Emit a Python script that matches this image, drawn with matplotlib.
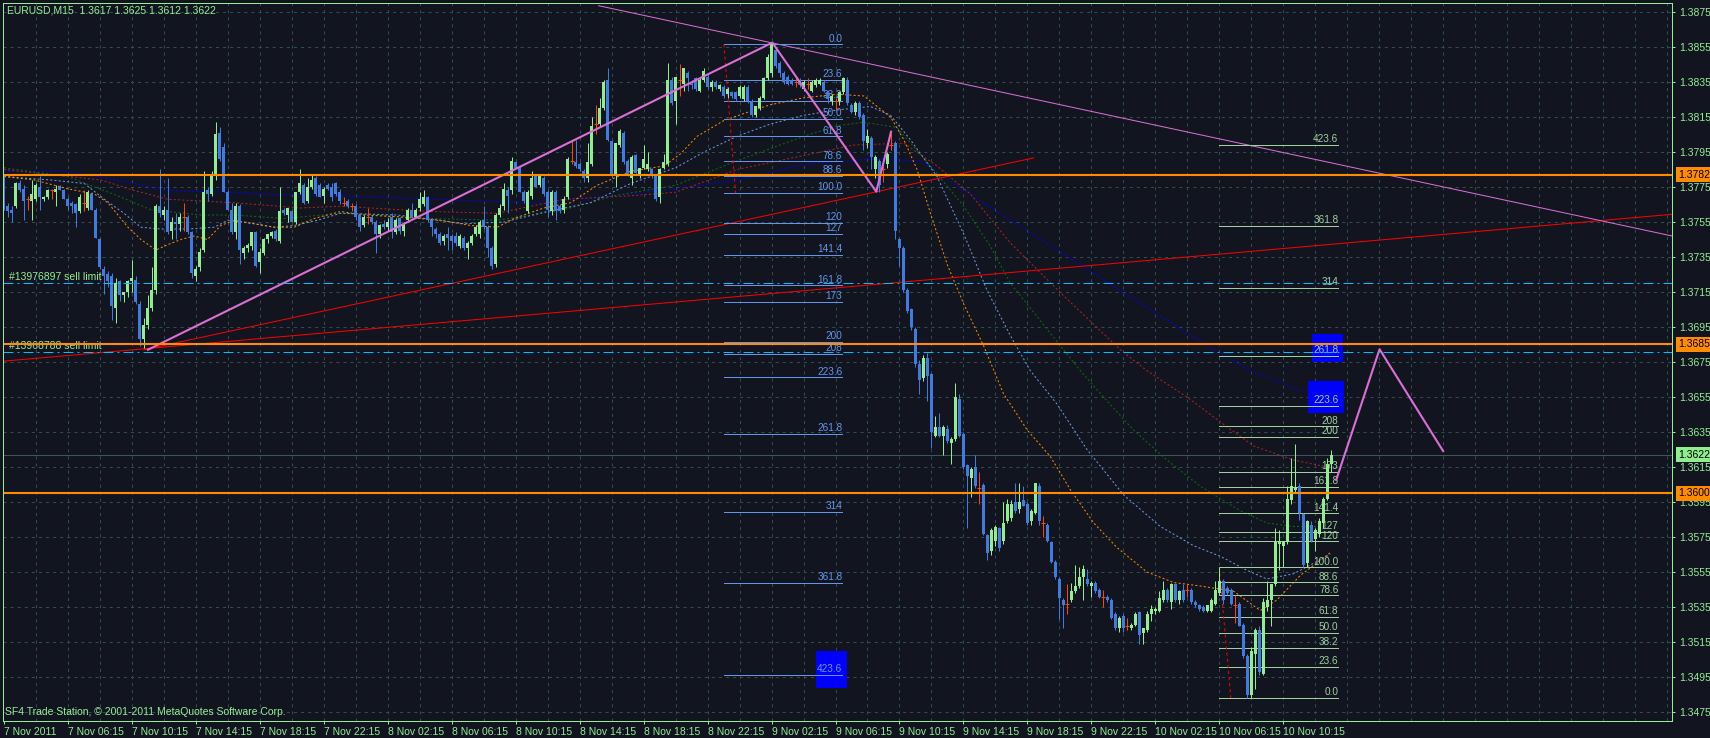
import numpy as np
import matplotlib.pyplot as plt
from matplotlib.patches import Rectangle
from matplotlib.transforms import blended_transform_factory

plt.rcParams['font.family'] = ['Liberation Sans Narrow', 'Liberation Sans', 'DejaVu Sans']
plt.rcParams['lines.scale_dashes'] = False

# prices are written as 4 digits after "1." (3776 -> 1.3776), one candle per 15 min bar
opens = [
    3776, 3764, 3762, 3764, 3777, 3774, 3768, 3767, 3768, 3775, 3768, 3769, 3773, 3772, 3775, 3773, 3768, 3766, 3765, 3761,
    3766, 3763, 3771, 3762, 3745, 3728, 3725, 3724, 3706, 3721, 3713, 3715, 3721, 3722, 3708, 3688, 3696, 3706, 3716, 3764,
    3759, 3762, 3750, 3755, 3754, 3758, 3758, 3749, 3724, 3729, 3739, 3773, 3771, 3781, 3806, 3798, 3772, 3762, 3749, 3764,
    3737, 3740, 3741, 3749, 3732, 3737, 3745, 3747, 3750, 3744, 3762, 3759, 3761, 3755, 3772, 3776, 3767, 3775, 3780, 3776,
    3770, 3776, 3775, 3777, 3772, 3766, 3767, 3764, 3764, 3759, 3753, 3758, 3758, 3755, 3748, 3754, 3752, 3758, 3749, 3757,
    3750, 3756, 3762, 3758, 3763, 3765, 3769, 3756, 3751, 3748, 3744, 3748, 3747, 3747, 3741, 3746, 3740, 3743, 3748, 3748,
    3756, 3752, 3740, 3731, 3759, 3764, 3773, 3773, 3789, 3786, 3772, 3761, 3770, 3781, 3776, 3780, 3772, 3761, 3772, 3764,
    3762, 3769, 3790, 3789, 3788, 3784, 3780, 3788, 3811, 3811, 3820, 3836, 3801, 3782, 3799, 3806, 3790, 3780, 3793, 3781,
    3786, 3785, 3785, 3781, 3769, 3786, 3788, 3836, 3824, 3836, 3834, 3840, 3834, 3837, 3830, 3836, 3838, 3832, 3835, 3831,
    3832, 3828, 3829, 3829, 3827, 3825, 3832, 3824, 3816, 3820, 3826, 3837, 3840, 3853, 3846, 3840, 3838, 3836, 3835, 3836,
    3831, 3834, 3830, 3833, 3834, 3835, 3829, 3824, 3824, 3824, 3829, 3836, 3822, 3818, 3823, 3816, 3800, 3803, 3785, 3790,
    3785, 3788, 3799, 3800, 3745, 3740, 3716, 3705, 3694, 3674, 3666, 3677, 3668, 3633, 3638, 3633, 3637, 3629, 3631, 3654,
    3634, 3616, 3609, 3615, 3603, 3605, 3576, 3567, 3573, 3580, 3573, 3584, 3586, 3595, 3591, 3596, 3594, 3584, 3589, 3604,
    3583, 3582, 3572, 3561, 3551, 3539, 3537, 3539, 3544, 3547, 3552, 3551, 3547, 3549, 3545, 3541, 3541, 3539, 3531, 3523,
    3530, 3524, 3523, 3525, 3532, 3520, 3522, 3531, 3533, 3533, 3539, 3545, 3538, 3548, 3539, 3545, 3545, 3545, 3538, 3536,
    3535, 3533, 3533, 3537, 3543, 3550, 3546, 3545, 3536, 3537, 3525, 3507, 3485, 3508, 3522, 3497, 3535, 3539, 3548, 3571,
    3570, 3572, 3596, 3602, 3604, 3588, 3560, 3582, 3574, 3577, 3583, 3597, 3617,
]
highs = [
    3781, 3766, 3764, 3778, 3779, 3776, 3770, 3779, 3777, 3781, 3770, 3774, 3774, 3776, 3776, 3774, 3769, 3767, 3766, 3771,
    3773, 3773, 3772, 3763, 3746, 3730, 3727, 3726, 3723, 3722, 3715, 3722, 3733, 3724, 3710, 3700, 3713, 3729, 3765, 3785,
    3764, 3780, 3758, 3760, 3760, 3766, 3759, 3750, 3730, 3740, 3784, 3775, 3784, 3812, 3809, 3800, 3773, 3766, 3766, 3765,
    3741, 3743, 3749, 3750, 3740, 3746, 3748, 3750, 3751, 3775, 3763, 3763, 3762, 3772, 3785, 3777, 3780, 3782, 3781, 3777,
    3775, 3777, 3777, 3778, 3774, 3769, 3768, 3766, 3765, 3760, 3759, 3763, 3759, 3756, 3754, 3756, 3757, 3760, 3757, 3758,
    3755, 3763, 3766, 3763, 3772, 3773, 3770, 3757, 3752, 3749, 3748, 3752, 3748, 3749, 3748, 3747, 3744, 3748, 3753, 3756,
    3764, 3753, 3741, 3760, 3765, 3777, 3775, 3792, 3790, 3787, 3773, 3773, 3784, 3782, 3782, 3781, 3773, 3773, 3773, 3765,
    3770, 3792, 3801, 3802, 3789, 3785, 3800, 3815, 3822, 3826, 3836, 3843, 3802, 3800, 3808, 3807, 3791, 3793, 3794, 3786,
    3799, 3795, 3786, 3782, 3786, 3794, 3846, 3838, 3838, 3845, 3843, 3841, 3836, 3838, 3837, 3843, 3840, 3836, 3836, 3834,
    3833, 3832, 3830, 3830, 3833, 3833, 3833, 3825, 3821, 3827, 3838, 3851, 3858, 3855, 3847, 3841, 3839, 3837, 3838, 3837,
    3836, 3837, 3836, 3837, 3837, 3836, 3830, 3828, 3826, 3830, 3838, 3838, 3823, 3824, 3824, 3817, 3808, 3804, 3793, 3791,
    3790, 3795, 3806, 3801, 3746, 3741, 3717, 3706, 3695, 3676, 3679, 3680, 3669, 3644, 3646, 3639, 3639, 3632, 3663, 3657,
    3635, 3617, 3615, 3622, 3612, 3606, 3577, 3580, 3582, 3581, 3595, 3597, 3596, 3606, 3606, 3604, 3595, 3591, 3606, 3606,
    3587, 3583, 3573, 3562, 3552, 3540, 3548, 3549, 3559, 3558, 3559, 3557, 3550, 3550, 3546, 3545, 3542, 3540, 3532, 3530,
    3531, 3529, 3526, 3532, 3533, 3523, 3533, 3536, 3535, 3544, 3550, 3546, 3549, 3549, 3545, 3548, 3548, 3546, 3539, 3537,
    3536, 3536, 3540, 3550, 3558, 3551, 3547, 3546, 3542, 3538, 3526, 3508, 3512, 3523, 3524, 3540, 3550, 3548, 3580, 3579,
    3573, 3604, 3620, 3628, 3606, 3589, 3585, 3584, 3580, 3586, 3598, 3620, 3625,
]
lows = [
    3762, 3758, 3755, 3763, 3772, 3756, 3762, 3756, 3767, 3762, 3767, 3768, 3768, 3764, 3773, 3768, 3762, 3760, 3752, 3760,
    3761, 3762, 3762, 3746, 3728, 3714, 3718, 3699, 3697, 3710, 3709, 3712, 3715, 3708, 3684, 3683, 3694, 3704, 3714, 3758,
    3756, 3748, 3745, 3745, 3750, 3750, 3748, 3723, 3721, 3727, 3738, 3767, 3770, 3779, 3790, 3772, 3762, 3748, 3745, 3731,
    3734, 3738, 3739, 3729, 3726, 3736, 3743, 3746, 3744, 3743, 3759, 3755, 3755, 3754, 3771, 3765, 3766, 3774, 3770, 3769,
    3766, 3773, 3767, 3770, 3765, 3764, 3763, 3761, 3756, 3750, 3752, 3754, 3754, 3737, 3746, 3751, 3750, 3746, 3748, 3748,
    3747, 3755, 3757, 3757, 3761, 3764, 3755, 3747, 3746, 3742, 3742, 3739, 3739, 3741, 3740, 3739, 3734, 3742, 3747, 3746,
    3751, 3735, 3728, 3729, 3758, 3762, 3760, 3771, 3785, 3772, 3766, 3760, 3768, 3775, 3775, 3770, 3758, 3759, 3756, 3760,
    3760, 3768, 3788, 3786, 3784, 3778, 3778, 3787, 3805, 3810, 3819, 3801, 3780, 3775, 3798, 3788, 3781, 3776, 3783, 3780,
    3785, 3784, 3780, 3767, 3766, 3785, 3787, 3822, 3811, 3827, 3830, 3830, 3831, 3830, 3829, 3835, 3831, 3830, 3831, 3830,
    3826, 3826, 3826, 3824, 3826, 3824, 3823, 3815, 3815, 3819, 3825, 3836, 3838, 3843, 3838, 3834, 3833, 3833, 3832, 3832,
    3830, 3831, 3829, 3832, 3833, 3829, 3823, 3822, 3819, 3822, 3828, 3822, 3817, 3816, 3814, 3796, 3797, 3785, 3780, 3772,
    3778, 3786, 3796, 3745, 3730, 3715, 3703, 3693, 3672, 3657, 3664, 3653, 3626, 3632, 3632, 3622, 3629, 3617, 3630, 3632,
    3614, 3580, 3598, 3603, 3594, 3576, 3562, 3565, 3570, 3567, 3571, 3583, 3584, 3589, 3589, 3593, 3582, 3582, 3588, 3582,
    3575, 3572, 3560, 3551, 3528, 3523, 3531, 3538, 3543, 3546, 3539, 3547, 3541, 3543, 3540, 3535, 3538, 3528, 3522, 3521,
    3521, 3522, 3522, 3524, 3514, 3514, 3521, 3527, 3531, 3532, 3538, 3538, 3534, 3538, 3537, 3538, 3541, 3537, 3535, 3533,
    3532, 3532, 3532, 3536, 3542, 3537, 3542, 3536, 3526, 3524, 3506, 3483, 3483, 3488, 3496, 3496, 3533, 3524, 3547, 3556,
    3558, 3571, 3594, 3600, 3585, 3558, 3558, 3572, 3567, 3575, 3580, 3596, 3612,
]
closes = [
    3764, 3761, 3760, 3777, 3773, 3767, 3768, 3771, 3776, 3769, 3769, 3773, 3773, 3774, 3773, 3768, 3764, 3764, 3760, 3769,
    3766, 3772, 3762, 3746, 3729, 3724, 3721, 3707, 3720, 3713, 3715, 3721, 3723, 3709, 3688, 3696, 3706, 3716, 3764, 3760,
    3762, 3749, 3755, 3754, 3758, 3758, 3749, 3726, 3728, 3738, 3772, 3771, 3781, 3805, 3791, 3772, 3762, 3749, 3764, 3739,
    3740, 3742, 3749, 3730, 3738, 3745, 3748, 3749, 3745, 3761, 3760, 3763, 3755, 3772, 3777, 3766, 3775, 3779, 3771, 3769,
    3774, 3774, 3769, 3771, 3767, 3766, 3764, 3764, 3758, 3752, 3758, 3758, 3755, 3748, 3753, 3752, 3755, 3749, 3756, 3750,
    3754, 3762, 3758, 3762, 3768, 3769, 3756, 3752, 3748, 3743, 3747, 3746, 3744, 3743, 3747, 3740, 3743, 3747, 3752, 3755,
    3752, 3740, 3730, 3759, 3763, 3774, 3770, 3790, 3786, 3772, 3767, 3772, 3780, 3775, 3781, 3771, 3762, 3772, 3761, 3761,
    3768, 3791, 3790, 3787, 3785, 3780, 3789, 3810, 3811, 3820, 3835, 3802, 3781, 3800, 3807, 3789, 3781, 3792, 3783, 3786,
    3791, 3788, 3781, 3768, 3785, 3789, 3836, 3823, 3838, 3836, 3843, 3837, 3833, 3831, 3836, 3841, 3832, 3835, 3832, 3833,
    3827, 3831, 3827, 3825, 3832, 3832, 3824, 3816, 3821, 3826, 3837, 3849, 3857, 3844, 3840, 3835, 3834, 3834, 3835, 3833,
    3835, 3834, 3835, 3836, 3836, 3830, 3825, 3827, 3824, 3829, 3837, 3823, 3818, 3823, 3815, 3801, 3804, 3792, 3792, 3776,
    3785, 3794, 3799, 3750, 3740, 3716, 3704, 3695, 3674, 3665, 3677, 3667, 3635, 3638, 3633, 3638, 3630, 3631, 3655, 3633,
    3615, 3610, 3614, 3604, 3603, 3577, 3566, 3579, 3581, 3569, 3583, 3594, 3594, 3590, 3595, 3593, 3583, 3590, 3606, 3584,
    3583, 3573, 3561, 3552, 3540, 3536, 3537, 3544, 3547, 3552, 3557, 3548, 3549, 3544, 3541, 3541, 3539, 3529, 3523, 3529,
    3523, 3524, 3525, 3531, 3519, 3523, 3531, 3534, 3534, 3540, 3545, 3539, 3548, 3539, 3544, 3539, 3545, 3538, 3536, 3534,
    3533, 3536, 3539, 3545, 3550, 3539, 3543, 3537, 3536, 3524, 3507, 3485, 3510, 3522, 3498, 3538, 3539, 3548, 3572, 3573,
    3572, 3597, 3604, 3603, 3589, 3559, 3584, 3573, 3579, 3584, 3597, 3617, 3622,
]

time_labels = ['7 Nov 2011', '7 Nov 06:15', '7 Nov 10:15', '7 Nov 14:15', '7 Nov 18:15', '7 Nov 22:15',
               '8 Nov 02:15', '8 Nov 06:15', '8 Nov 10:15', '8 Nov 14:15', '8 Nov 18:15', '8 Nov 22:15',
               '9 Nov 02:15', '9 Nov 06:15', '9 Nov 10:15', '9 Nov 14:15', '9 Nov 18:15', '9 Nov 22:15',
               '10 Nov 02:15', '10 Nov 06:15', '10 Nov 10:15']

# moving averages (bar index, price)
ma_orange_x = [0, 7.6, 15.9, 22.6, 26, 31, 34.25, 38, 40.9, 44.25, 47.6, 50.9, 54.25, 57.6, 62.6, 67.6, 72.6, 77.6,
               84.25, 90, 98.4, 109.25, 116.75, 123.4, 127.6, 135, 141.75, 148.4, 156.75, 165.1, 169.25, 173.4, 180.1,
               187.6, 191.75, 200.1, 208.4, 215.1, 221.75, 225.1, 228.4, 231.75, 235.9, 240.1, 245.1, 250, 256, 261.75,
               266.75, 272.6, 278.4, 285.9, 292.6, 299.25, 307.6, 314.25, 318.4, 324.25, 331.75]
ma_orange_y = [3781, 3779, 3774, 3771, 3766, 3752, 3745, 3739, 3742, 3745, 3747, 3745, 3753, 3756, 3754, 3752, 3752, 3757,
               3761, 3759, 3758, 3756, 3753, 3752, 3757, 3763, 3766, 3776, 3784, 3787, 3794, 3804, 3813, 3819, 3822, 3826,
               3828, 3827, 3815, 3802, 3785, 3760, 3731, 3708, 3684, 3657, 3636, 3621, 3602, 3583, 3569, 3555, 3549, 3547,
               3544, 3533, 3539, 3553, 3566]
ma_lblue_x = [0, 11.75, 20.1, 25.1, 30, 34.25, 39.25, 45.9, 52.6, 56, 62.6, 67.6, 72.6, 78.4, 84.25, 98.4, 115.1, 125.1,
              135.9, 146.75, 156.75, 168, 175.1, 183.4, 191.75, 200.1, 208.4, 216.75, 221.75, 226.75, 233.4, 240.1, 245.9,
              251.75, 256.75, 263.4, 270.9, 280.1, 289.25, 297.6, 304.25, 310.9, 315.9, 322.6, 331.75]
ma_lblue_y = [3781, 3779, 3777, 3768, 3760, 3752, 3751, 3751, 3752, 3756, 3754, 3752, 3753, 3756, 3760, 3759, 3754, 3755,
              3761, 3766, 3777, 3786, 3795, 3804, 3811, 3816, 3819, 3821, 3816, 3802, 3781, 3748, 3716, 3690, 3670, 3651,
              3625, 3599, 3581, 3570, 3564, 3556, 3551, 3554, 3565]
ma_green_x = [0, 15.9, 28.4, 36.75, 49.25, 57.6, 70.1, 84.25, 106.75, 123.4, 140.1, 152.6, 168, 183.4, 200.1, 208.4,
              215.1, 223.4, 231.75, 240.1, 246.75, 251.75, 269.25, 274.25, 282.6, 290.9, 299.25, 309.25, 315.9, 322.6,
              329.25]
ma_green_y = [3786, 3781, 3770, 3762, 3759, 3759, 3757, 3760, 3757, 3756, 3762, 3770, 3776, 3790, 3804, 3810, 3812, 3809,
              3787, 3764, 3741, 3720, 3670, 3657, 3636, 3619, 3604, 3590, 3583, 3581, 3581]
ma_red_x = [0, 24.25, 32.6, 40.9, 57.6, 74.25, 84.25, 106.75, 123.4, 140.1, 156.75, 168, 183.4, 200.1, 212.6, 225.1,
            233.4, 241.75, 251.75, 265, 279.25, 285.9, 295.9, 305.9, 312.6, 322.6, 330.9]
ma_red_y = [3785, 3779, 3773, 3768, 3766, 3763, 3764, 3761, 3760, 3768, 3770, 3772, 3785, 3793, 3799, 3800, 3787, 3771,
            3743, 3713, 3682, 3670, 3655, 3638, 3627, 3619, 3615]
ma_blue_x = [0, 15.9, 32.6, 40.9, 57.6, 74.25, 84.25, 106.75, 131.75, 148.4, 168, 183.4, 200.1, 216.75, 229.25, 237.6,
             251.75, 298.4, 311.75, 325.1]
ma_blue_y = [3784, 3784, 3777, 3773, 3772, 3770, 3770, 3768, 3766, 3769, 3774, 3779, 3788, 3791, 3790, 3777, 3756, 3688,
             3670, 3658]

# drawn objects
orange_levels = [3782, 3685, 3600]
last_price = 3622
sell_limit_prices = [3720, 3680.6]
sell_limit_names = ['#13976897 sell limit', '#13968788 sell limit']
zigzag_x = [36, 192.2, 218.2, 221.9]
zigzag_y = [3682, 3857.5, 3772.3, 3806.6]
projection_x = [333.25, 344.1, 360]
projection_y = [3607.6, 3682.3, 3624.1]
thin_pink_x = [148.75, 417.3]
thin_pink_y = [3878.6, 3747.0]
red_a_x = [-1, 417.3]
red_a_y = [3675.3, 3759.4]
red_b_x = [35, 257.5]
red_b_y = [3682, 3791.6]

fib_levels = [0, 23.6, 38.2, 50, 61.8, 78.6, 88.6, 100, 120, 127, 141.4, 161.8, 173, 200, 208, 223.6, 261.8, 314,
              361.8, 423.6]
fib_texts = ['0.0', '23.6', '38.2', '50.0', '61.8', '78.6', '88.6', '100.0', '120', '127', '141.4', '161.8', '173',
             '200', '208', '223.6', '261.8', '314', '361.8', '423.6']
fib1_anchor_x = [180.1, 183.0]
fib1_anchor_y = [3856.5, 3771.4]
fib1_end_x = 209.7
fib2_anchor_x = [304.0, 306.9]
fib2_anchor_y = [3557.6, 3483.0]
fib2_end_x = 333.8
# blue rectangles: (x0, x1, y0, y1)
boxes = [(203.0, 210.85, 3488.9, 3509.9), (327.2, 334.9, 3674.8, 3691.0), (326.1, 335.1, 3646.0, 3664.1)]

BG = '#12151f'
GRID = '#2f4f4f'
FG = '#96ee96'
BULL = '#90ee90'
BEAR = '#3f7be0'
DOJI = '#ff4500'
ORANGE = '#ff8c00'
PINK = '#da70d6'
FIB1 = '#6495ed'
FIB2 = '#a0cfa0'
PX = 0.72  # one pixel in points


def pr(v):
    return 1 + np.asarray(v, dtype=float) / 10000


fig = plt.figure(figsize=(17.1, 7.38), dpi=100, facecolor=BG)
ax = fig.add_axes([3 / 1710, 17 / 738, 1669 / 1710, 718 / 738], facecolor=BG)
ax.set_xlim(-0.25, 417.25)
ax.set_ylim(1.346986, 1.388014)

price_ticks = np.arange(3475, 3876, 20)
grid_ls = (0, (2.2, 2.9))
for v in price_ticks:
    ax.axhline(pr(v), color=GRID, lw=PX, ls=grid_ls, zorder=0)
for gx in range(8, 418, 8):
    ax.axvline(gx, color=GRID, lw=PX, ls=grid_ls, zorder=0)

# rectangles
for x0, x1, y0, y1 in boxes:
    ax.add_patch(Rectangle((x0, pr(y0)), x1 - x0, pr(y1) - pr(y0), color='#0000ff', lw=0, zorder=1))

# moving averages
ma_ls = (0, (1.44, 1.6))
ax.plot(ma_blue_x, pr(ma_blue_y), color='#0000ff', lw=PX, ls=ma_ls, zorder=2)
ax.plot(ma_red_x, pr(ma_red_y), color='#b22222', lw=PX, ls=ma_ls, zorder=2)
ax.plot(ma_green_x, pr(ma_green_y), color='#0a6e0a', lw=PX, ls=ma_ls, zorder=2)
ax.plot(ma_lblue_x, pr(ma_lblue_y), color='#6f9ae8', lw=PX, ls=ma_ls, zorder=2)
ax.plot(ma_orange_x, pr(ma_orange_y), color=ORANGE, lw=PX, ls=ma_ls, zorder=2)

# current price line
ax.axhline(pr(last_price), color='#3d5757', lw=PX, zorder=2)

# trend lines
ax.plot(red_a_x, pr(red_a_y), color='#ff0000', lw=PX, zorder=3)
ax.plot(red_b_x, pr(red_b_y), color='#ff0000', lw=PX, zorder=3)
ax.plot(thin_pink_x, pr(thin_pink_y), color=PINK, lw=PX, zorder=3)

# fibonacci 1 (down swing) and 2 (up swing)
rng1 = fib1_anchor_y[0] - fib1_anchor_y[1]
rng2 = fib2_anchor_y[0] - fib2_anchor_y[1]
for lv, t in zip(fib_levels, fib_texts):
    y1 = pr(fib1_anchor_y[0] - lv / 100 * rng1)
    ax.plot([fib1_anchor_x[0], fib1_end_x], [y1, y1], color=FIB1, lw=PX, zorder=3)
    ax.annotate(t, (fib1_end_x, y1), xytext=(0, 0.6), textcoords='offset points', ha='right', va='bottom',
                color=FIB1, fontsize=7.2, zorder=3)
    y2 = pr(fib2_anchor_y[1] + lv / 100 * rng2)
    ax.plot([fib2_anchor_x[0], fib2_end_x], [y2, y2], color=FIB2, lw=PX, zorder=3)
    ax.annotate(t, (fib2_end_x, y2), xytext=(0, 0.6), textcoords='offset points', ha='right', va='bottom',
                color=FIB2, fontsize=7.2, zorder=3)
ax.plot(fib1_anchor_x, pr(fib1_anchor_y), color='#ff0000', lw=PX, ls=(0, (2.2, 2.2)), zorder=3)
ax.plot(fib2_anchor_x, pr(fib2_anchor_y), color='#ff0000', lw=PX, ls=(0, (2.2, 2.2)), zorder=3)

# candles
o, h, l, c = pr(opens), pr(highs), pr(lows), pr(closes)
idx = np.arange(len(o))
up, dn, dj = c > o, c < o, c == o
ax.vlines(idx[up], l[up], h[up], color=BULL, lw=PX, zorder=4)
ax.bar(idx[up], c[up] - o[up], bottom=o[up], width=0.75, color=BULL, lw=0, zorder=4)
ax.vlines(idx[dn], l[dn], h[dn], color=BEAR, lw=PX, zorder=4)
ax.bar(idx[dn], o[dn] - c[dn], bottom=c[dn], width=0.75, color=BEAR, lw=0, zorder=4)
ax.vlines(idx[dj], l[dj], h[dj], color=DOJI, lw=PX, zorder=4)
ax.hlines(o[dj], idx[dj] - 0.5, idx[dj] + 0.5, color=DOJI, lw=PX, zorder=4)

# pink zigzag + projection
ax.plot(zigzag_x, pr(zigzag_y), color=PINK, lw=1.5, zorder=5)
ax.plot(projection_x, pr(projection_y), color=PINK, lw=1.5, zorder=5)

# pending orders
for v, name in zip(sell_limit_prices, sell_limit_names):
    ax.axhline(pr(v), color='#00bfff', lw=PX, ls=(0, (7.2, 2.9, 1.4, 2.9)), zorder=5)
    ax.annotate(name, (1.2, pr(v)), xytext=(0, 1), textcoords='offset points', ha='left', va='bottom',
                color=FG, fontsize=7.5, zorder=5)

# horizontal levels
for v in orange_levels:
    ax.axhline(pr(v), color=ORANGE, lw=1.5, zorder=6)

# axes styling
for s in ax.spines.values():
    s.set_color(FG)
    s.set_linewidth(PX)
    s.set_zorder(7)
ax.yaxis.tick_right()
ax.set_yticks(pr(price_ticks))
ax.set_yticklabels([f'{p:.4f}' for p in pr(price_ticks)])
ax.set_xticks(np.arange(len(time_labels)) * 16)
ax.set_xticklabels(time_labels)
for lbl in ax.get_xticklabels():
    lbl.set_horizontalalignment('left')
ax.tick_params(axis='both', colors=FG, labelcolor=FG, labelsize=7.5, length=2.5, width=PX, direction='out')
ax.tick_params(axis='y', pad=3)
ax.tick_params(axis='x', pad=2)

trans = blended_transform_factory(ax.transAxes, ax.transData)
for v in orange_levels:
    ax.text(1.0036, pr(v), f'{pr(v):.4f}', transform=trans, ha='left', va='center', fontsize=7.5, color='black',
            bbox=dict(boxstyle='square,pad=0.22', fc=ORANGE, ec='none'), clip_on=False, zorder=10)
ax.text(1.0036, pr(last_price), f'{pr(last_price):.4f}', transform=trans, ha='left', va='center', fontsize=7.5,
        color='black', bbox=dict(boxstyle='square,pad=0.22', fc=BULL, ec='none'), clip_on=False, zorder=10)

ax.text(4 / 1669, 1 - 7 / 718, 'EURUSD,M15  1.3617 1.3625 1.3612 1.3622', transform=ax.transAxes, ha='left',
        va='center', fontsize=7.5, color=FG, zorder=8)
ax.text(2 / 1669, 9 / 718, 'SF4 Trade Station, \u00a9 2001-2011 MetaQuotes Software Corp.', transform=ax.transAxes,
        ha='left', va='center', fontsize=7.5, color=FG, zorder=8)

fig.savefig('out.png', dpi=100, facecolor=BG)
